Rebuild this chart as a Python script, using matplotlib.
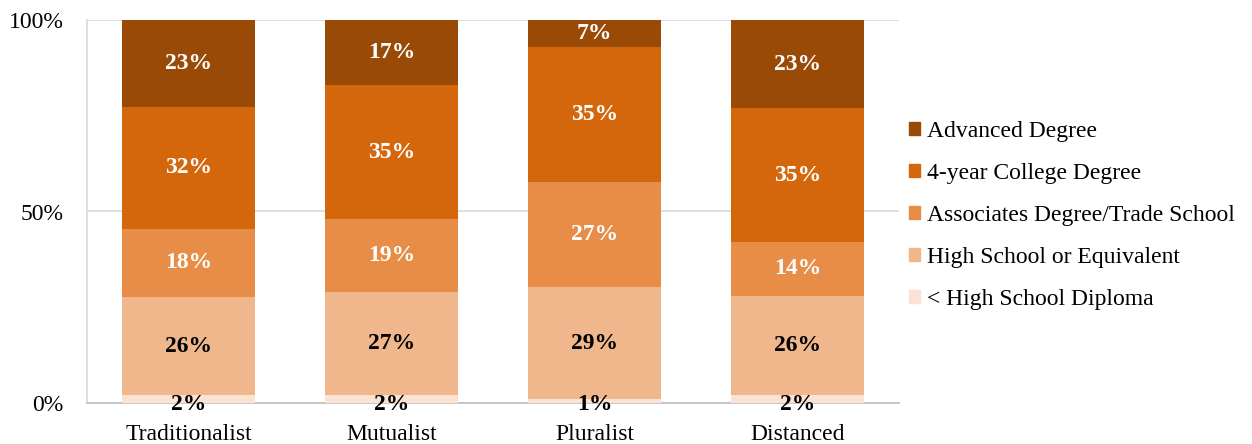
import numpy as np
import matplotlib.pyplot as plt
from matplotlib.patches import Patch

plt.rcParams['font.family'] = ['Liberation Serif', 'DejaVu Serif']

# Данные
groups = ["Traditionalist", "Mutualist", "Pluralist", "Distanced"]
levels = ["< High School Diploma", "High School or Equivalent",
          "Associates Degree/Trade School", "4-year College Degree",
          "Advanced Degree"]
less_hs = [2, 2, 1, 2]
high_school = [26, 27, 29, 26]
associates = [18, 19, 27, 14]
college = [32, 35, 35, 35]
advanced = [23, 17, 7, 23]

colors = ["#FBE3D3", "#F0B78C", "#E88D47", "#D4660C", "#994A07"]
text_colors = ["black", "black", "white", "white", "white"]

series = np.array([less_hs, high_school, associates, college, advanced], dtype=float)
shares = series / series.sum(axis=0) * 100  # нормировка до 100%

fig = plt.figure(figsize=(12.52, 4.44), dpi=100)
ax = fig.add_axes([87 / 1252, 41 / 444, 812 / 1252, 383 / 444])

x = np.arange(len(groups))
bottom = np.zeros(len(groups))
for i, lvl in enumerate(levels):
    ax.bar(x, shares[i], 0.66, bottom=bottom, color=colors[i], zorder=3)
    for j in range(len(groups)):
        yc = bottom[j] + shares[i][j] / 2
        if i == 0:
            yc = -0.3  # нижняя подпись сидит на оси
        ax.text(x[j], yc, f"{int(series[i][j])}%",
                ha="center", va="center", fontsize=17, fontweight="bold",
                color=text_colors[i], zorder=4, clip_on=False)
    bottom += shares[i]

ax.set_xlim(-0.5, 3.5)
ax.set_ylim(0, 100)
ax.set_yticks([0, 50, 100])
ax.set_yticklabels(["0%", "50%", "100%"], fontsize=17)
ax.set_xticks(x)
ax.set_xticklabels(groups, fontsize=17)
ax.tick_params(length=0)
ax.tick_params(axis="y", pad=17)
ax.tick_params(axis="x", pad=15)
ax.grid(axis="y", color="#D9D9D9", linewidth=1.2, zorder=0)
for s in ["top", "right"]:
    ax.spines[s].set_visible(False)
ax.spines["left"].set_color("#D9D9D9")
ax.spines["bottom"].set_color("#BFBFBF")
ax.spines["left"].set_linewidth(1.2)
ax.spines["bottom"].set_linewidth(1.2)

handles = [Patch(color=colors[i], label=levels[i]) for i in range(len(levels) - 1, -1, -1)]
fig.legend(handles=handles, loc="center left", bbox_to_anchor=(888 / 1252, 0.515),
           frameon=False, fontsize=17, handlelength=0.47, handleheight=0.47,
           handletextpad=0.3, labelspacing=0.89)

plt.savefig("out.png", dpi=100)
